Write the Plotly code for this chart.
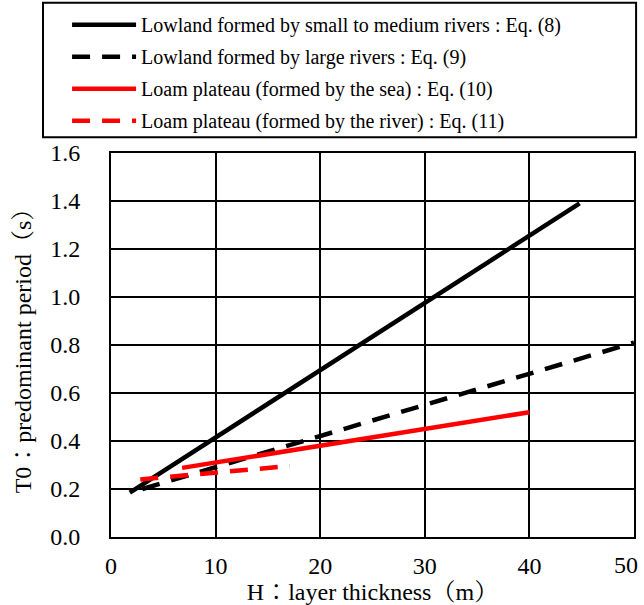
import plotly.graph_objects as go

names = [
    "Lowland formed by small to medium rivers : Eq. (8)",
    "Lowland formed by large rivers : Eq. (9)",
    "Loam plateau (formed by the sea) : Eq. (10)",
    "Loam plateau (formed by the river) : Eq. (11)",
]
h_values = [[1.8, 44.8], [3.0, 50.0], [6.8, 40.0], [2.8, 17.1]]
t_values = [[0.185, 1.39], [0.20, 0.81], [0.288, 0.52], [0.24, 0.296]]
colors = ["black", "black", "red", "red"]
dashes = ["solid", "18px,12px", "solid", "18px,12px"]

x_ticks = [0, 10, 20, 30, 40, 50]
y_ticks = [0.0, 0.2, 0.4, 0.6, 0.8, 1.0, 1.2, 1.4, 1.6]

font_fam = "Liberation Serif, Times New Roman, Noto Serif CJK JP, Noto Sans CJK JP, serif"

fig = go.Figure()
for i, (n, h, t, c, d) in enumerate(zip(names, h_values, t_values, colors, dashes)):
    fig.add_trace(go.Scatter(x=h, y=t, mode="lines", name=n, legendgroup=f"g{i}",
                             line=dict(color=c, width=4.5, dash=d)))

# last x tick label is placed as an annotation so it stays inside the page
x_labels = [str(v) for v in x_ticks[:-1]] + [""]

fig.update_layout(
    width=644, height=605,
    margin=dict(l=111, r=10, t=153, b=68, autoexpand=False),
    paper_bgcolor="white", plot_bgcolor="white",
    font=dict(family=font_fam, size=20, color="black"),
    showlegend=True,
    legend=dict(x=-0.084, y=1.385, xanchor="left", yanchor="top",
                borderwidth=0, bgcolor="rgba(0,0,0,0)",
                font=dict(size=20), itemwidth=64, tracegroupgap=3),
    shapes=[dict(type="rect", xref="paper", yref="paper",
                 x0=-0.130, x1=1.004, y0=1.041, y1=1.391,
                 line=dict(color="black", width=2), fillcolor="rgba(0,0,0,0)")],
    annotations=[dict(x=x_ticks[-1], xref="x", y=0, yref="paper",
                      text=str(x_ticks[-1]), showarrow=False,
                      xanchor="center", yanchor="top", xshift=-8, yshift=-13,
                      font=dict(size=24))],
)
fig.update_xaxes(range=[0, 50], tickvals=x_ticks, ticktext=x_labels,
                 showgrid=True, gridcolor="black", gridwidth=2,
                 showline=True, linecolor="black", linewidth=2, mirror=True,
                 zeroline=False, ticks="", tickfont=dict(size=24), automargin=False,
                 ticklabelstandoff=6,
                 title=dict(text="H：layer thickness（m）", font=dict(size=24), standoff=0))
fig.update_yaxes(range=[0, 1.6], tickvals=y_ticks, ticktext=[f"{v:.1f}" for v in y_ticks],
                 showgrid=True, gridcolor="black", gridwidth=2,
                 showline=True, linecolor="black", linewidth=2, mirror=True,
                 zeroline=False, ticks="", tickfont=dict(size=24), automargin=False,
                 ticklabelstandoff=24, ticklabeloverflow="allow",
                 title=dict(text="T0：predominant period（s）", font=dict(size=24), standoff=12))

fig.write_html("out.html")
